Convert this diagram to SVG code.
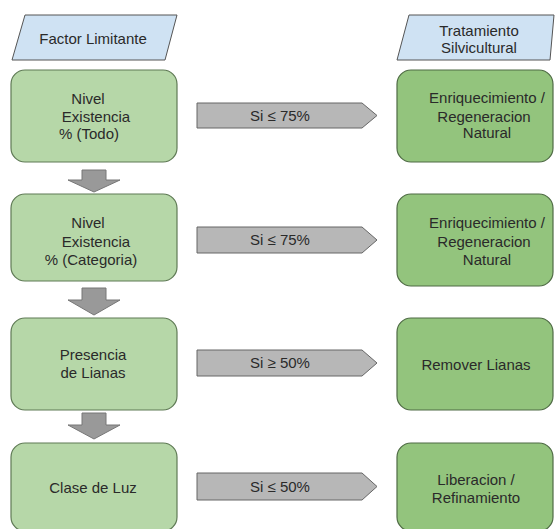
<svg xmlns="http://www.w3.org/2000/svg" width="555" height="529" viewBox="0 0 555 529">
<style>
text{font-family:"Liberation Sans",Arial,sans-serif;font-size:15px;fill:#2a2a2a;text-anchor:middle}
.hdr{fill:#cfe2f3;stroke:#555;stroke-width:1}
.lb{fill:#b6d7a8;stroke:#5f7a55;stroke-width:1.2}
.rb{fill:#93c47d;stroke:#4f6b45;stroke-width:1.2}
.ga{fill:#b7b7b7;stroke:#666;stroke-width:1}
.da{fill:#999;stroke:#777;stroke-width:1}
</style>
<rect width="555" height="529" fill="#fff"/>
<g id="hdr-left"><polygon class="hdr" points="25,15 177,15 165,60 12,60"/><text x="93" y="44">Factor Limitante</text></g>
<g id="hdr-right"><polygon class="hdr" points="409,15 554,15 550,60 397,60"/><text x="479" y="36">Tratamiento</text><text x="479" y="53">Silvicultural</text></g>
<g id="n1"><rect class="lb" x="11" y="70" width="166" height="92" rx="14"/><text x="88" y="104">Nivel</text><text x="96" y="122">Existencia</text><text x="89" y="139">% (Todo)</text></g>
<g id="n2"><rect class="lb" x="11" y="194" width="166" height="87" rx="14"/><text x="88" y="228">Nivel</text><text x="96" y="247">Existencia</text><text x="91" y="265">% (Categoria)</text></g>
<g id="n3"><rect class="lb" x="11" y="318" width="166" height="92" rx="14"/><text x="93" y="360">Presencia</text><text x="93" y="378">de Lianas</text></g>
<g id="n4"><rect class="lb" x="11" y="443" width="166" height="88" rx="14"/><text x="93" y="493">Clase de Luz</text></g>
<g id="r1"><rect class="rb" x="397" y="70" width="156" height="92" rx="14"/><text x="487" y="103">Enriquecimiento /</text><text x="484" y="122">Regeneracion</text><text x="487" y="138">Natural</text></g>
<g id="r2"><rect class="rb" x="397" y="194" width="156" height="92" rx="14"/><text x="487" y="228">Enriquecimiento /</text><text x="484" y="247">Regeneracion</text><text x="487" y="265">Natural</text></g>
<g id="r3"><rect class="rb" x="397" y="318" width="156" height="92" rx="14"/><text x="476" y="370">Remover Lianas</text></g>
<g id="r4"><rect class="rb" x="397" y="443" width="156" height="88" rx="14"/><text x="476" y="485">Liberacion /</text><text x="476" y="503">Refinamiento</text></g>
<g id="connectors">
<polygon class="da" points="82,170 106,170 106,180 120,180 94,192 68,180 82,180"/>
<polygon class="da" points="82,288 106,288 106,300 120,300 94,315 68,300 82,300"/>
<polygon class="da" points="82,413 106,413 106,425 120,425 94,439 68,425 82,425"/>
<g><polygon class="ga" points="197,103 362,103 377,115.5 362,128 197,128"/><text x="280" y="121">Si ≤ 75%</text></g>
<g><polygon class="ga" points="197,227 362,227 377,240 362,253 197,253"/><text x="280" y="245">Si ≤ 75%</text></g>
<g><polygon class="ga" points="197,350 362,350 377,363 362,376 197,376"/><text x="280" y="368">Si ≥ 50%</text></g>
<g><polygon class="ga" points="197,473 362,473 377,486.5 362,500 197,500"/><text x="280" y="492">Si ≤ 50%</text></g>
</g>
</svg>
